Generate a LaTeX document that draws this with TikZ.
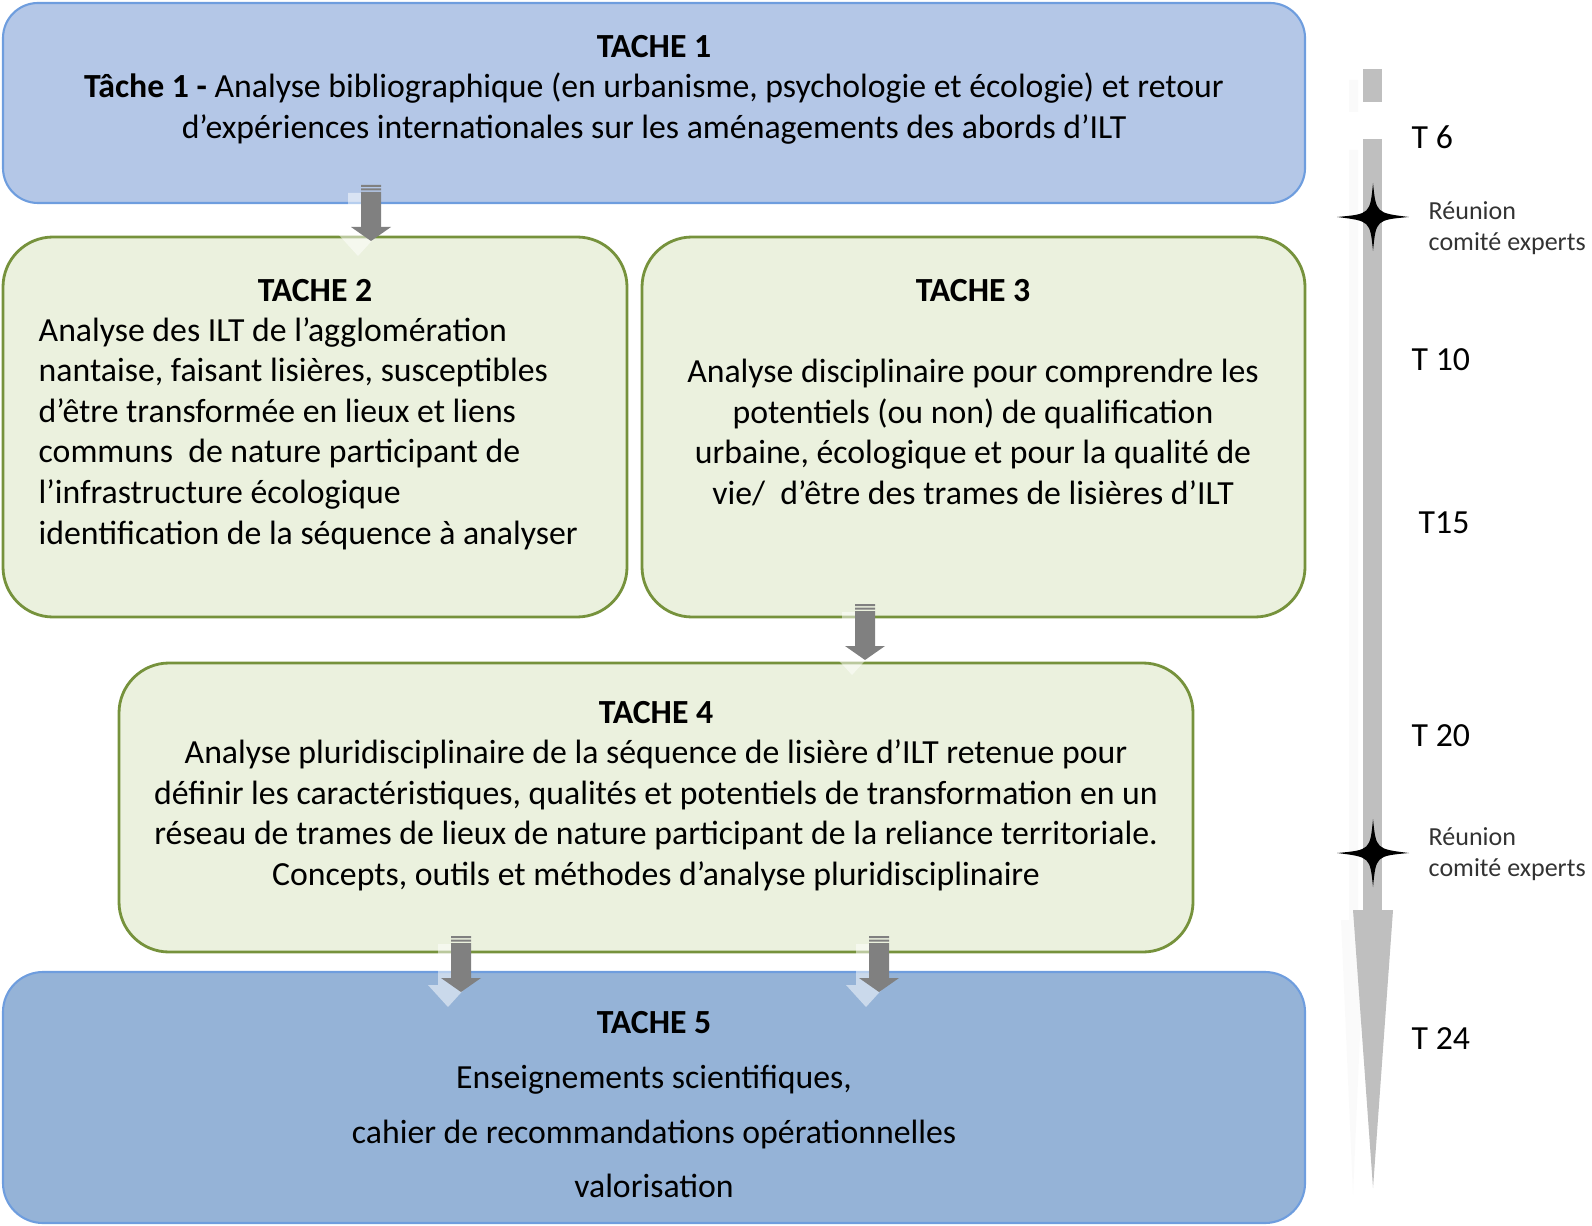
\documentclass[tikz,border=0pt]{standalone}
\usepackage{fontspec}
\setmainfont{Carlito}
\usetikzlibrary{positioning, calc, fit}

\definecolor{bleuclair}{RGB}{180,199,231}
\definecolor{bleutrait}{RGB}{110,157,222}
\definecolor{bleufonce}{RGB}{149,179,215}
\definecolor{vertfond}{RGB}{235,241,222}
\definecolor{verttrait}{RGB}{118,146,60}
\definecolor{grisfleche}{RGB}{128,128,128}
\definecolor{grisfrise}{RGB}{191,191,191}

% flèche grise rayée (haut de la flèche en #1)
\newcommand{\flecheblock}[1]{%
  \begin{scope}[shift={(#1)}]
    \fill[white, opacity=0.5] (-23,8) rectangle (-3,49) (-33,49) -- (7,49) -- (-13,71) -- cycle;
    \fill[grisfleche] (-10,0) rectangle (10,2) (-10,3.5) rectangle (10,5.5) (-10,7) rectangle (10,42);
    \fill[grisfleche] (-20,42) -- (20,42) -- (0,56) -- cycle;
  \end{scope}}

% étoile à quatre branches
\newcommand{\etoile}[1]{%
  \fill[black] (#1) ++(0,-34) .. controls ++(3,30) .. ++(36,34)
    .. controls ++(-33,3) .. ++(-36,34) .. controls ++(-3,-30) .. ++(-36,-34)
    .. controls ++(33,-3) .. cycle;}

\tikzset{
  texte/.style={font=\fontsize{9.6}{11.55}\selectfont, inner sep=0pt},
  titre/.style={texte, font=\fontsize{9.6}{11.55}\selectfont\bfseries},
  tachebleue/.style={draw=bleutrait, fill=bleuclair, line width=0.6pt, rounded corners=0.35cm, inner sep=0pt},
  tachefonce/.style={draw=bleutrait, fill=bleufonce, line width=0.6pt, rounded corners=0.4cm, inner sep=0pt},
  tacheverte/.style={draw=verttrait, fill=vertfond, line width=0.8pt, rounded corners=0.5cm, inner sep=0pt},
  jalon/.style={texte, anchor=west},
  reunion/.style={font=\fontsize{7.4}{8.9}\selectfont, text=black!80, inner sep=0pt, anchor=west, align=left}
}

\begin{document}
\begin{tikzpicture}[x=0.01cm, y=-0.01cm]
  \useasboundingbox (0,0) rectangle (1592,1225);

  % Les cadres des tâches
  \node[tachebleue, fit={(3,3) (1305,203)}] (t1) {};
  \node[tacheverte, fit={(3,237) (627,617)}] (t2) {};
  \node[tacheverte, fit={(642,237) (1305,617)}] (t3) {};
  \node[tacheverte, fit={(119,663) (1193,952)}] (t4) {};
  \node[tachefonce, fit={(3,972) (1305,1223)}] (t5) {};

  % Textes
  \node[texte, align=center] (t1txt) at (654,89.5)
    {\textbf{TACHE 1}\\
     \textbf{Tâche 1 -} Analyse bibliographique (en urbanisme, psychologie et écologie) et retour\\
     d’expériences internationales sur les aménagements des abords d’ILT};

  \node[titre] (t2tit) at (315,291) {TACHE 2};
  \node[texte, align=left, anchor=west] (t2txt) at (38,433.5)
    {Analyse des ILT de l’agglomération\\
     nantaise, faisant lisières, susceptibles\\
     d’être transformée en lieux et liens\\
     communs\ \ de nature participant de\\
     l’infrastructure écologique\\
     identification de la séquence à analyser};

  \node[titre] (t3tit) at (973,291) {TACHE 3};
  \node[texte, align=center] (t3txt) at (973,432.5)
    {Analyse disciplinaire pour comprendre les\\
     potentiels (ou non) de qualification\\
     urbaine, écologique et pour la qualité de\\
     vie/\ \ d’être des trames de lisières d’ILT};

  \node[texte, align=center] (t4txt) at (656,796)
    {\textbf{TACHE 4}\\
     Analyse pluridisciplinaire de la séquence de lisière d’ILT retenue pour\\
     définir les caractéristiques, qualités et potentiels de transformation en un\\
     réseau de trames de lieux de nature participant de la reliance territoriale.\\
     Concepts, outils et méthodes d’analyse pluridisciplinaire};

  \node[texte, font=\fontsize{9.6}{15.5}\selectfont, align=center] (t5txt) at (654,1104.5)
    {\textbf{TACHE 5}\\[0.3pt]
     Enseignements scientifiques,\\
     cahier de recommandations opérationnelles\\
     valorisation};

  % Flèches entre les tâches
  \coordinate (a12) at (371,185);
  \coordinate (a34) at (865,604);
  \coordinate (a45g) at (461,936);
  \coordinate (a45d) at (879,936);
  \flecheblock{a12}
  \flecheblock{a34}
  \flecheblock{a45g}
  \flecheblock{a45d}

  % Frise chronologique
  \fill[black!2] (1349,80) rectangle (1358,112) (1349,150) rectangle (1358,920);
  \fill[black!2] (1341,920) -- (1365,920) -- (1353,1195) -- cycle;
  \fill[grisfrise] (1363,69) rectangle (1382,102);
  \fill[grisfrise] (1363,139) rectangle (1382,910);
  \fill[grisfrise] (1353,910) -- (1393,910) -- (1373,1188) -- cycle;
  \coordinate (r1) at (1373,217);
  \coordinate (r2) at (1373,853);
  \etoile{r1}
  \etoile{r2}

  \node[jalon] (j6) at (1411,137) {T 6};
  \node[jalon] (j10) at (1411,360) {T 10};
  \node[jalon] (j15) at (1418,523) {T15};
  \node[jalon] (j20) at (1411,736) {T 20};
  \node[jalon] (j24) at (1411,1039) {T 24};

  \node[reunion] (reu1) at (1428,228) {Réunion\\comité experts};
  \node[reunion] (reu2) at (1428,854) {Réunion\\comité experts};
\end{tikzpicture}
\end{document}
